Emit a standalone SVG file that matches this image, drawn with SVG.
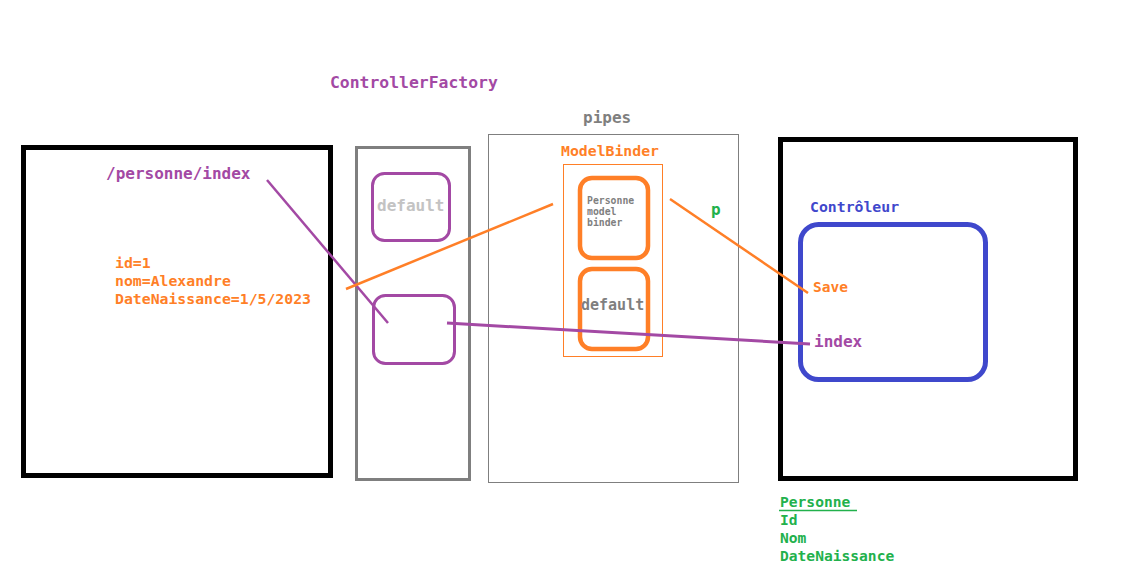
<svg xmlns="http://www.w3.org/2000/svg" width="1140" height="580" viewBox="0 0 1140 580">
<style>
text{font-family:"DejaVu Sans Mono","Liberation Mono",monospace;font-weight:bold}
.pu{fill:#a349a4}.or{fill:#ff7f27}.gr{fill:#22b14c}.bl{fill:#3f48cc}.gy{fill:#7f7f7f}
.box{fill:none}
</style>
<rect width="1140" height="580" fill="#fff"/>
<g id="client">
<rect class="box" x="23.5" y="147.5" width="307" height="328" stroke="#000" stroke-width="5"/>
<text class="pu" x="106" y="179" font-size="16">/personne/index</text>
<text class="or" font-size="14.8"><tspan x="115" y="268">id=1</tspan><tspan x="115" y="286">nom=Alexandre</tspan><tspan x="115" y="304">DateNaissance=1/5/2023</tspan></text>
</g>
<g id="controllerFactory">
<text class="pu" x="330" y="88" font-size="16.4">ControllerFactory</text>
<rect class="box" x="356.5" y="147.5" width="113" height="332" stroke="#7f7f7f" stroke-width="3"/>
<rect class="box" x="372.5" y="173.5" width="77" height="67" rx="12" stroke="#a349a4" stroke-width="3"/>
<text x="377" y="211" font-size="16" fill="#c3c3c3">default</text>
<rect class="box" x="373.5" y="295.5" width="81" height="68" rx="12" stroke="#a349a4" stroke-width="3"/>
</g>
<g id="pipes">
<text class="gy" x="583" y="123" font-size="16">pipes</text>
<rect class="box" x="488.5" y="134.5" width="250" height="348" stroke="#7f7f7f" stroke-width="1"/>
<text class="or" x="561" y="156" font-size="14.8">ModelBinder</text>
<rect class="box" x="563.5" y="164.5" width="99" height="192" stroke="#ff7f27" stroke-width="1"/>
<rect class="box" x="580" y="178" width="68" height="80" rx="12" stroke="#ff7f27" stroke-width="4.5"/>
<text class="gy" font-size="9.8"><tspan x="587" y="204">Personne</tspan><tspan x="587" y="215">model</tspan><tspan x="587" y="226">binder</tspan></text>
<rect class="box" x="580" y="269" width="68" height="80" rx="12" stroke="#ff7f27" stroke-width="4.5"/>
<text class="gy" x="581" y="310" font-size="15">default</text>
</g>
<g id="controleur">
<rect class="box" x="780.5" y="139.5" width="295" height="339" stroke="#000" stroke-width="5"/>
<text class="bl" x="810" y="212" font-size="14.8">Contrôleur</text>
<rect class="box" x="800.5" y="224.5" width="185" height="155" rx="18" stroke="#3f48cc" stroke-width="5"/>
<text class="or" x="813" y="292" font-size="14.5">Save</text>
<text class="pu" x="814" y="347" font-size="16">index</text>
</g>
<g id="personne">
<text class="gr" font-size="14.6"><tspan x="780" y="507">Personne</tspan><tspan x="780" y="525">Id</tspan><tspan x="780" y="543">Nom</tspan><tspan x="780" y="561">DateNaissance</tspan></text>
<line x1="779" y1="510.5" x2="857" y2="510.5" stroke="#22b14c" stroke-width="1.5"/>
</g>
<g id="connectors" fill="none" stroke-width="2.5">
<line x1="267" y1="180" x2="388" y2="323" stroke="#a349a4"/>
<line x1="447" y1="323" x2="810" y2="344" stroke="#a349a4" stroke-width="3"/>
<line x1="553" y1="204" x2="346" y2="289" stroke="#ff7f27"/>
<line x1="670" y1="199" x2="808" y2="293" stroke="#ff7f27"/>
<text class="gr" x="711" y="215" font-size="16">p</text>
</g>
</svg>
